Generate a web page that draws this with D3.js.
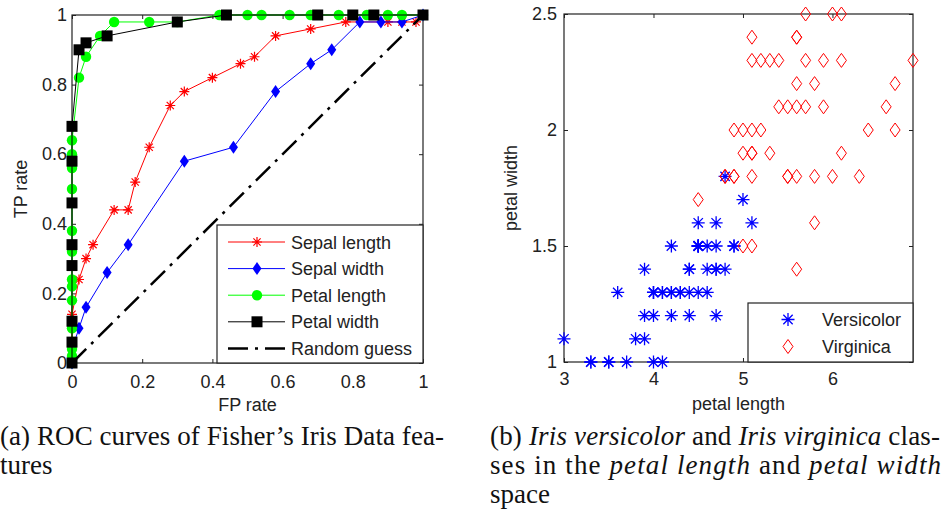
<!DOCTYPE html>
<html>
<head>
<meta charset="utf-8">
<script src="https://cdn.jsdelivr.net/npm/d3@7"></script>
<style>
  body { margin: 0; background: #fff; }
  svg { display: block; }
  .tick text, .axis-label, .legend text { font-family: "Liberation Sans", Arial, sans-serif; font-size: 18px; fill: #222; }
  .caption { font-family: "Liberation Serif", "DejaVu Serif", serif; font-size: 27px; fill: #111; }
</style>
</head>
<body>
<svg></svg>
<script>
// ROC points [FP rate, TP rate]
const sepalLength = [[0,0],[0,0.14],[0.02,0.24],[0.04,0.30],[0.06,0.34],[0.12,0.44],[0.16,0.44],[0.18,0.52],[0.22,0.62],[0.28,0.74],[0.32,0.78],[0.40,0.82],[0.48,0.86],[0.52,0.88],[0.58,0.94],[0.68,0.96],[0.78,0.98],[0.90,0.98],[0.94,0.98],[0.98,0.98],[1,1]];
const sepalWidth = [[0,0],[0,0.04],[0.02,0.10],[0.04,0.16],[0.10,0.26],[0.16,0.34],[0.32,0.58],[0.46,0.62],[0.58,0.78],[0.68,0.86],[0.74,0.90],[0.82,0.98],[0.88,0.98],[0.94,0.98],[1,1]];
const petalLength = [[0,0],[0,0.02],[0,0.04],[0,0.10],[0,0.18],[0,0.22],[0,0.24],[0,0.32],[0,0.38],[0,0.50],[0,0.56],[0,0.60],[0,0.64],[0.02,0.82],[0.04,0.88],[0.08,0.94],[0.12,0.98],[0.22,0.98],[0.30,0.98],[0.42,1],[0.50,1],[0.54,1],[0.62,1],[0.68,1],[0.76,1],[0.84,1],[0.90,1],[0.94,1],[1,1]];
const petalWidth = [[0,0],[0,0.06],[0,0.12],[0,0.28],[0,0.34],[0,0.46],[0,0.58],[0,0.68],[0.02,0.90],[0.04,0.92],[0.10,0.94],[0.30,0.98],[0.44,1],[0.70,1],[0.80,1],[0.86,1],[1,1]];
const randomGuess = [[0,0],[1,1]];
const rocTicks = [0, 0.2, 0.4, 0.6, 0.8, 1];

// petal length / petal width
const versicolorLength = [4.7,4.5,4.9,4.0,4.6,4.5,4.7,3.3,4.6,3.9,3.5,4.2,4.0,4.7,3.6,4.4,4.5,4.1,4.5,3.9,4.8,4.0,4.9,4.7,4.3,4.4,4.8,5.0,4.5,3.5,3.8,3.7,3.9,5.1,4.5,4.5,4.7,4.4,4.1,4.0,4.4,4.6,4.0,3.3,4.2,4.2,4.2,4.3,3.0,4.1];
const versicolorWidth = [1.4,1.5,1.5,1.3,1.5,1.3,1.6,1.0,1.3,1.4,1.0,1.5,1.0,1.4,1.3,1.4,1.5,1.0,1.5,1.1,1.8,1.3,1.5,1.2,1.3,1.4,1.4,1.7,1.5,1.0,1.1,1.0,1.2,1.6,1.5,1.6,1.5,1.3,1.3,1.3,1.2,1.4,1.2,1.0,1.3,1.2,1.3,1.3,1.1,1.3];
const virginicaLength = [6.0,5.1,5.9,5.6,5.8,6.6,4.5,6.3,5.8,6.1,5.1,5.3,5.5,5.0,5.1,5.3,5.5,6.7,6.9,5.0,5.7,4.9,6.7,4.9,5.7,6.0,4.8,4.9,5.6,5.8,6.1,6.4,5.6,5.1,5.6,6.1,5.6,5.5,4.8,5.4,5.6,5.1,5.1,5.9,5.7,5.2,5.0,5.2,5.4,5.1];
const virginicaWidth = [2.5,1.9,2.1,1.8,2.2,2.1,1.7,1.8,1.8,2.5,2.0,1.9,2.1,2.0,2.4,2.3,1.8,2.2,2.3,1.5,2.3,2.0,2.0,1.8,2.1,1.8,1.8,1.8,2.1,1.6,1.9,2.0,2.2,1.5,1.4,2.3,2.4,1.8,1.8,2.1,2.4,2.3,1.9,2.3,2.5,2.3,1.9,2.0,2.3,1.8];
const petalXTicks = [3, 4, 5, 6];
const petalYTicks = [1, 1.5, 2, 2.5];

const svg = d3.select("svg").attr("width", 946).attr("height", 514);

// marker paths centred at 0,0
const markers = {
  star: (r) => `M${-r},0L${r},0M0,${-r}L0,${r}M${-r*0.72},${-r*0.72}L${r*0.72},${r*0.72}M${-r*0.72},${r*0.72}L${r*0.72},${-r*0.72}`,
  diamond: (w, h) => `M0,${-h}L${w},0L0,${h}L${-w},0Z`,
  square: (s) => `M${-s},${-s}H${s}V${s}H${-s}Z`,
};

const drawMarker = (g, type, color) => {
  if (type === "star") {
    g.append("path").attr("d", markers.star(5)).attr("stroke", color).attr("stroke-width", 1.2).attr("fill", "none");
  } else if (type === "diamond") {
    g.append("path").attr("d", markers.diamond(4.5, 6.5)).attr("fill", color);
  } else if (type === "circle") {
    g.append("circle").attr("r", 5.2).attr("fill", color);
  } else if (type === "square") {
    g.append("path").attr("d", markers.square(5.5)).attr("fill", color);
  }
};

const styleAxis = (sel) => {
  sel.attr("font-family", null).attr("font-size", null);
  sel.select(".domain").remove();
  sel.selectAll(".tick line").attr("stroke", "#222");
};

// ---------- left: ROC curves ----------
const roc = { left: 72, right: 423, top: 15, bottom: 363 };
const xRoc = d3.scaleLinear().domain([0, 1]).range([roc.left, roc.right]);
const yRoc = d3.scaleLinear().domain([0, 1]).range([roc.bottom, roc.top]);

svg.append("g").attr("transform", `translate(0,${roc.bottom})`)
  .call(d3.axisBottom(xRoc).tickValues(rocTicks).tickFormat(d3.format("~g")).tickSize(-4).tickPadding(12))
  .call(styleAxis);
svg.append("g").attr("transform", `translate(0,${roc.top})`)
  .call(d3.axisTop(xRoc).tickValues(rocTicks).tickFormat("").tickSize(-4))
  .call(styleAxis);
svg.append("g").attr("transform", `translate(${roc.left},0)`)
  .call(d3.axisLeft(yRoc).tickValues(rocTicks).tickFormat(d3.format("~g")).tickSize(-4).tickPadding(5))
  .call(styleAxis);
svg.append("g").attr("transform", `translate(${roc.right},0)`)
  .call(d3.axisRight(yRoc).tickValues(rocTicks).tickFormat("").tickSize(-4))
  .call(styleAxis);

svg.append("rect")
  .attr("x", roc.left).attr("y", roc.top)
  .attr("width", roc.right - roc.left).attr("height", roc.bottom - roc.top)
  .attr("fill", "none").attr("stroke", "#222").attr("stroke-width", 1.2);

const rocLine = d3.line().x((d) => xRoc(d[0])).y((d) => yRoc(d[1]));

const rocSeries = [
  { name: "Sepal length", data: sepalLength, color: "#ff0000", marker: "star" },
  { name: "Sepal width", data: sepalWidth, color: "#0000ff", marker: "diamond" },
  { name: "Petal length", data: petalLength, color: "#00ff00", marker: "circle" },
  { name: "Petal width", data: petalWidth, color: "#000000", marker: "square" },
];

rocSeries.forEach((s) => {
  svg.append("path").datum(s.data).attr("d", rocLine)
    .attr("fill", "none").attr("stroke", s.color).attr("stroke-width", 1);
  svg.append("g").selectAll("g").data(s.data).enter().append("g")
    .attr("transform", (d) => `translate(${xRoc(d[0])},${yRoc(d[1])})`)
    .each(function () { drawMarker(d3.select(this), s.marker, s.color); });
});

svg.append("path").datum(randomGuess).attr("d", rocLine)
  .attr("fill", "none").attr("stroke", "#000").attr("stroke-width", 2.5)
  .attr("stroke-dasharray", "20,7,3,7");

// legend
const leg = svg.append("g").attr("class", "legend");
leg.append("rect").attr("x", 217).attr("y", 225).attr("width", roc.right - 217).attr("height", roc.bottom - 225)
  .attr("fill", "#fff").attr("stroke", "#222").attr("stroke-width", 1.2);
const legRows = [...rocSeries, { name: "Random guess", color: "#000", marker: null }];
legRows.forEach((s, i) => {
  const y = 242 + i * 26.6;
  const row = leg.append("g");
  const ln = row.append("line").attr("x1", 228).attr("x2", 285).attr("y1", y).attr("y2", y).attr("stroke", s.color);
  if (s.marker) {
    ln.attr("stroke-width", 1);
    drawMarker(row.append("g").attr("transform", `translate(257,${y})`), s.marker, s.color);
  } else {
    ln.attr("stroke-width", 2.5).attr("stroke-dasharray", "20,7,3,7");
  }
  row.append("text").attr("x", 291).attr("y", y + 6.5).text(s.name);
});

svg.append("text").attr("class", "axis-label").attr("x", (roc.left + roc.right) / 2).attr("y", 411)
  .attr("text-anchor", "middle").text("FP rate");
svg.append("text").attr("class", "axis-label").attr("transform", `translate(27,${(roc.top + roc.bottom) / 2}) rotate(-90)`)
  .attr("text-anchor", "middle").text("TP rate");

// ---------- right: petal scatter ----------
const sc = { left: 564, right: 913, top: 14, bottom: 362 };
const xSc = d3.scaleLinear().domain([3, 6.9]).range([sc.left, sc.right]);
const ySc = d3.scaleLinear().domain([1, 2.5]).range([sc.bottom, sc.top]);

svg.append("g").attr("transform", `translate(0,${sc.bottom})`)
  .call(d3.axisBottom(xSc).tickValues(petalXTicks).tickFormat(d3.format("~g")).tickSize(-4).tickPadding(10))
  .call(styleAxis);
svg.append("g").attr("transform", `translate(0,${sc.top})`)
  .call(d3.axisTop(xSc).tickValues(petalXTicks).tickFormat("").tickSize(-4))
  .call(styleAxis);
svg.append("g").attr("transform", `translate(${sc.left},0)`)
  .call(d3.axisLeft(ySc).tickValues(petalYTicks).tickFormat(d3.format("~g")).tickSize(-4).tickPadding(7))
  .call(styleAxis);
svg.append("g").attr("transform", `translate(${sc.right},0)`)
  .call(d3.axisRight(ySc).tickValues(petalYTicks).tickFormat("").tickSize(-4))
  .call(styleAxis);

svg.append("rect")
  .attr("x", sc.left).attr("y", sc.top)
  .attr("width", sc.right - sc.left).attr("height", sc.bottom - sc.top)
  .attr("fill", "none").attr("stroke", "#222").attr("stroke-width", 1.2);

const versicolor = versicolorLength.map((l, i) => [l, versicolorWidth[i]]);
const virginica = virginicaLength.map((l, i) => [l, virginicaWidth[i]]);

svg.append("g").selectAll("path").data(versicolor).enter().append("path")
  .attr("transform", (d) => `translate(${xSc(d[0])},${ySc(d[1])})`)
  .attr("d", markers.star(6.5)).attr("stroke", "#0000ff").attr("stroke-width", 1.3).attr("fill", "none");
svg.append("g").selectAll("path").data(virginica).enter().append("path")
  .attr("transform", (d) => `translate(${xSc(d[0])},${ySc(d[1])})`)
  .attr("d", markers.diamond(5, 7)).attr("stroke", "#ff0000").attr("stroke-width", 1).attr("fill", "none");

const leg2 = svg.append("g").attr("class", "legend");
leg2.append("rect").attr("x", 748).attr("y", 303).attr("width", sc.right - 748).attr("height", sc.bottom - 303)
  .attr("fill", "#fff").attr("stroke", "#222").attr("stroke-width", 1.2);
leg2.append("path").attr("transform", "translate(788,319.5)").attr("d", markers.star(6.5))
  .attr("stroke", "#0000ff").attr("stroke-width", 1.3).attr("fill", "none");
leg2.append("text").attr("x", 822).attr("y", 326).text("Versicolor");
leg2.append("path").attr("transform", "translate(788,346.5)").attr("d", markers.diamond(5, 7))
  .attr("stroke", "#ff0000").attr("stroke-width", 1).attr("fill", "none");
leg2.append("text").attr("x", 822).attr("y", 353).text("Virginica");

svg.append("text").attr("class", "axis-label").attr("x", (sc.left + sc.right) / 2).attr("y", 410)
  .attr("text-anchor", "middle").text("petal length");
svg.append("text").attr("class", "axis-label").attr("transform", `translate(517,${(sc.top + sc.bottom) / 2}) rotate(-90)`)
  .attr("text-anchor", "middle").text("petal width");

// ---------- captions ----------
svg.append("text").attr("class", "caption").attr("x", 0).attr("y", 445)
  .attr("textLength", 444).text("(a)  ROC curves of Fisher\u2019s Iris Data fea-");
svg.append("text").attr("class", "caption").attr("x", 0).attr("y", 474).text("tures");

const capB1 = svg.append("text").attr("class", "caption").attr("x", 490).attr("y", 445).attr("textLength", 450);
capB1.append("tspan").text("(b)  ");
capB1.append("tspan").attr("font-style", "italic").text("Iris versicolor");
capB1.append("tspan").text(" and ");
capB1.append("tspan").attr("font-style", "italic").text("Iris virginica");
capB1.append("tspan").text(" clas-");

const capB2 = svg.append("text").attr("class", "caption").attr("x", 490).attr("y", 474).attr("textLength", 451);
capB2.append("tspan").text("ses in the ");
capB2.append("tspan").attr("font-style", "italic").text("petal length");
capB2.append("tspan").text(" and ");
capB2.append("tspan").attr("font-style", "italic").text("petal width");

svg.append("text").attr("class", "caption").attr("x", 490).attr("y", 503).text("space");
</script>
</body>
</html>
